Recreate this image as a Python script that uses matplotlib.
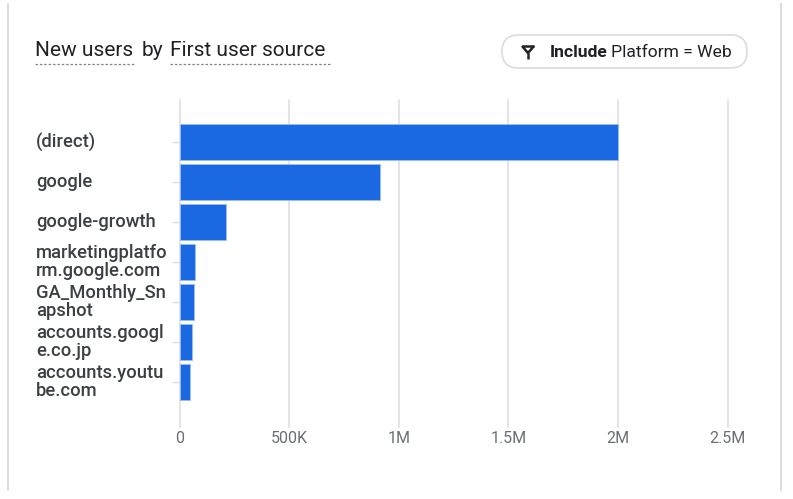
import matplotlib.pyplot as plt
from matplotlib.patches import FancyBboxPatch
from matplotlib.lines import Line2D
from matplotlib.transforms import IdentityTransform, blended_transform_factory

plt.rcParams['font.family'] = ['Roboto', 'DejaVu Sans']

# ---- data ----
sources = ["(direct)", "google", "google-growth",
           "marketingplatfo\nrm.google.com", "GA_Monthly_Sn\napshot",
           "accounts.googl\ne.co.jp", "accounts.youtu\nbe.com"]
new_users = [2000000, 915000, 213000, 71000, 64000, 58000, 49000]
x_ticks = [0, 500000, 1000000, 1500000, 2000000, 2500000]
x_tick_labels = ["0", "500K", "1M", "1.5M", "2M", "2.5M"]

W, H = 793, 499
BLUE = "#1a69e3"
GRID = "#dadce0"
TEXT = "#3c4043"

fig = plt.figure(figsize=(W / 100, H / 100), dpi=100)


def fx(px):
    return px / W


def fy(py):
    return 1 - py / H


# ------- card edges -------
for xc in (7.5, 780.5):
    fig.add_artist(Line2D([xc, xc], [H - 4, H - 490], transform=IdentityTransform(),
                          color="#d5d5d5", linewidth=1.2))

# ------- bars -------
ax = fig.add_axes([fx(179.5), fy(427), (727.5 - 179.5) / W, (427 - 100) / H])
pos = list(range(len(sources)))
ax.barh(pos, new_users, height=0.9, color=BLUE, edgecolor="#9cbdf2",
        linewidth=0.6, zorder=3)
ax.set_xlim(0, 2500000)
ax.set_ylim(7.125, -1.05)
ax.set_xticks(x_ticks, x_tick_labels)
ax.set_yticks(pos, [""] * len(pos))
ax.grid(axis="x", color=GRID, linewidth=1.1, zorder=0)
for gl in ax.get_xgridlines():
    gl.set_clip_on(False)
for s in ax.spines.values():
    s.set_visible(False)
ax.tick_params(axis="x", length=0, pad=3, labelsize=11.5, labelcolor="#6b6f74")
ax.tick_params(axis="y", length=6, width=1, color=GRID)

trans = blended_transform_factory(fig.transFigure, ax.transData)
for i, lab in enumerate(sources):
    ax.text(fx(36), i, lab, transform=trans, ha="left", va="center",
            fontsize=13.2, color=TEXT, fontweight="medium", linespacing=0.93)

# ------- title with dashed underlines -------
title_parts = [(35, 135, "New users", True), (142, None, "by", False),
               (170, 330, "First user source", True)]
for x0, x1, txt, under in title_parts:
    fig.text(fx(x0), fy(56.5), txt, ha="left", va="baseline", fontsize=15,
             color="#202124")
    if under:
        fig.add_artist(Line2D([x0, x1], [H - 63.5, H - 63.5], transform=IdentityTransform(),
                              color="#80868b", linewidth=0.9, linestyle=(0, (2, 1.5))))

# ------- filter chip -------
chip = FancyBboxPatch((502, H - 68), 245, 33,
                      boxstyle="round,pad=0,rounding_size=16.5",
                      transform=IdentityTransform(), facecolor="white",
                      edgecolor=GRID, linewidth=1.2)
fig.add_artist(chip)
icon = [([522, 534], [46, 46]), ([522, 528, 534], [46, 53, 46]), ([528, 528], [53, 59])]
for xs, ys in icon:
    fig.add_artist(Line2D(xs, [H - y for y in ys], transform=IdentityTransform(),
                          color="#202124", linewidth=1.8, solid_capstyle="butt"))
fig.text(fx(550), fy(52.5), "Include", ha="left", va="center", fontsize=12.6,
         fontweight="bold", color="#202124")
fig.text(fx(611), fy(52.5), "Platform = Web", ha="left", va="center", fontsize=12.6,
         color="#202124")

fig.savefig("out.png", dpi=100)
